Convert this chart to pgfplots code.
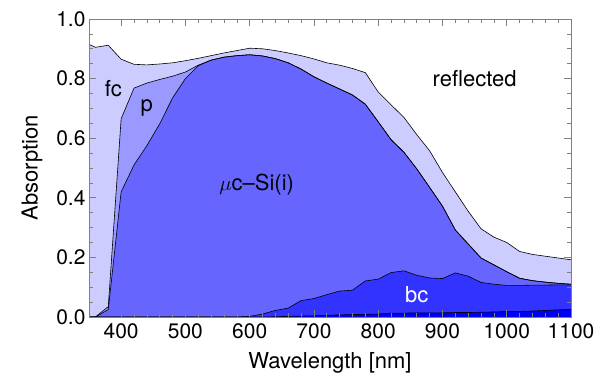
\documentclass[border=0pt]{standalone}
\usepackage{fontspec}
\setmainfont{TeX Gyre Heros}
\usepackage{pgfplots}
\pgfplotsset{compat=1.18}
\usepackage{pgfplotstable}
\usetikzlibrary{calc}
\definecolor{cfc}{RGB}{204,204,255}
\definecolor{cp}{RGB}{153,153,255}
\definecolor{ci}{RGB}{102,102,255}
\definecolor{cbc}{RGB}{51,51,255}
\definecolor{cb}{RGB}{0,0,240}
\pgfplotstableread{
x     L1     L2     L3     L4     L5
350   0      0      0      0      0.915
360   0      0      0      0      0.905
380   0      0      0.025  0.035  0.912
400   0      0      0.42   0.665  0.865
420   0      0      0.51   0.768  0.848
440   0      0      0.575  0.785  0.846
460   0      0      0.648  0.797  0.849
480   0      0      0.735  0.808  0.853
500   0      0      0.80   0.822  0.86
520   0      0      0.843  0.845  0.868
540   0      0      0.862  0.862  0.877
560   0      0      0.872  0.872  0.886
580   0      0      0.877  0.877  0.894
600   0      0.002  0.880  0.880  0.902
620   0      0.01   0.876  0.876  0.900
640   0.001  0.022  0.867  0.867  0.894
660   0.002  0.03   0.853  0.853  0.886
680   0.003  0.055  0.832  0.832  0.877
700   0.004  0.062  0.806  0.806  0.866
720   0.006  0.075  0.785  0.785  0.853
740   0.007  0.087  0.765  0.765  0.845
760   0.008  0.090  0.745  0.745  0.834
780   0.009  0.121  0.714  0.714  0.820
800   0.010  0.127  0.655  0.655  0.755
820   0.013  0.149  0.595  0.595  0.712
840   0.013  0.155  0.553  0.553  0.670
860   0.014  0.140  0.497  0.497  0.612
880   0.014  0.131  0.435  0.435  0.558
900   0.014  0.129  0.372  0.372  0.485
920   0.015  0.148  0.292  0.292  0.420
940   0.015  0.137  0.245  0.245  0.355
960   0.016  0.116  0.198  0.198  0.296
980   0.017  0.110  0.175  0.175  0.268
1000  0.018  0.106  0.152  0.152  0.250
1020  0.019  0.106  0.130  0.130  0.220
1040  0.020  0.107  0.122  0.122  0.210
1060  0.022  0.107  0.117  0.117  0.204
1080  0.024  0.108  0.113  0.113  0.198
1100  0.026  0.108  0.110  0.110  0.192
}\data
\begin{document}
\begin{tikzpicture}
\begin{axis}[name=ax, scale only axis, width=482pt, height=298pt,
  xmin=350, xmax=1100, ymin=0, ymax=1,
  axis line style={gray}, tick style={gray, line width=0.6pt},
  major tick length=7pt, minor tick length=4pt, tick align=inside,
  xtick={400,500,...,1100}, ytick={0,0.2,0.4,0.6,0.8,1},
  minor x tick num=4, minor y tick num=3,
  yticklabel style={/pgf/number format/.cd, fixed, fixed zerofill, precision=1},
  xticklabel style={/pgf/number format/1000 sep={}, yshift=-3pt},
  /pgf/number format/assume math mode=true,
  tick label style={font=\fontsize{21}{24}\selectfont},
  label style={font=\fontsize{22}{26}\selectfont},
  xlabel={Wavelength [nm]}, ylabel={Absorption},
  xlabel style={yshift=-7pt}, ylabel style={yshift=7pt},
  axis on top]
\addplot[fill=cfc, draw=none] table[x=x,y=L5]{\data} \closedcycle;
\addplot[fill=cp, draw=none] table[x=x,y=L4]{\data} \closedcycle;
\addplot[fill=ci, draw=none] table[x=x,y=L3]{\data} \closedcycle;
\addplot[fill=cbc, draw=none] table[x=x,y=L2]{\data} \closedcycle;
\addplot[fill=cb, draw=none] table[x=x,y=L1]{\data} \closedcycle;
\addplot[black, line width=0.6pt] table[x=x,y=L5]{\data};
\addplot[black, line width=0.6pt] table[x=x,y=L4]{\data};
\addplot[black, line width=0.6pt] table[x=x,y=L3]{\data};
\addplot[black, line width=0.6pt] table[x=x,y=L2]{\data};
\addplot[black, line width=0.6pt] table[x=x,y=L1]{\data};
\node[font=\fontsize{22}{26}\selectfont] at (axis cs:388,0.765) {fc};
\node[font=\fontsize{22}{26}\selectfont] at (axis cs:440,0.70) {p};
\node[font=\fontsize{22}{26}\selectfont] at (axis cs:611,0.445) {$\mu$c–Si(i)};
\node[font=\fontsize{22}{26}\selectfont] at (axis cs:950,0.80) {reflected};
\node[font=\fontsize{22}{26}\selectfont, white] at (axis cs:860,0.075) {bc};
\end{axis}
\pgfresetboundingbox
\path ($(ax.south west)+(-89pt,-65pt)$) rectangle ($(ax.north east)+(35pt,19pt)$);
\end{tikzpicture}
\end{document}
